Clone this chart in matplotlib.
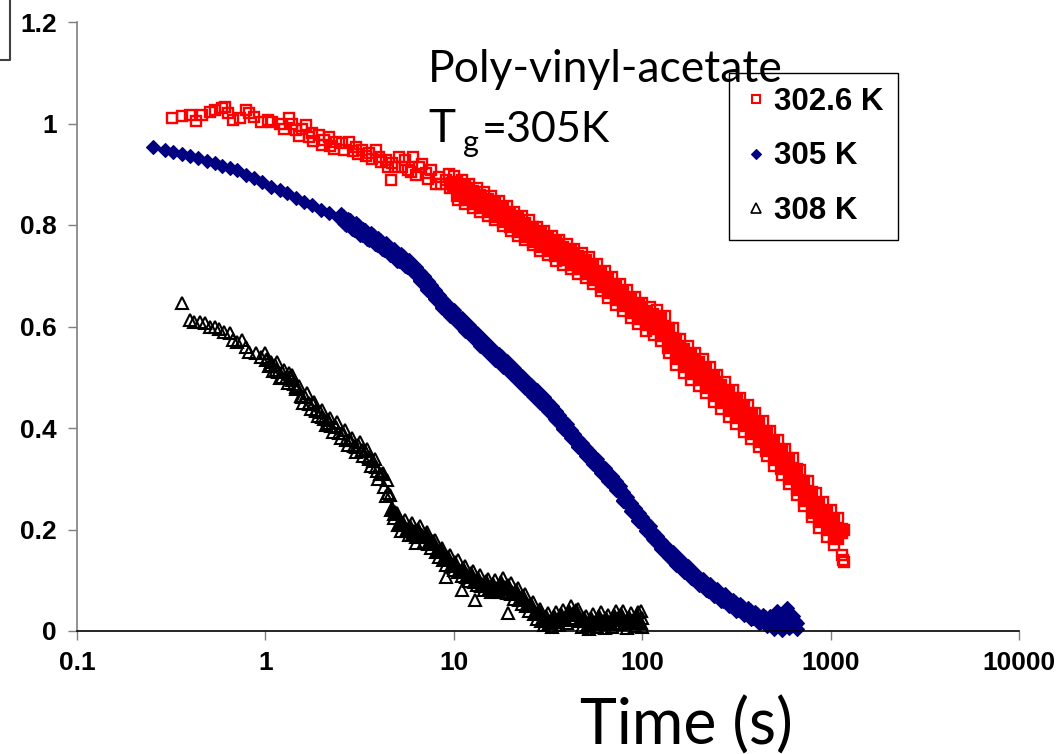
import matplotlib
matplotlib.use("Agg")
import matplotlib.pyplot as plt
import numpy as np
from matplotlib.lines import Line2D
from matplotlib.font_manager import FontProperties

# ---- data: normalised signal vs time (s) for three temperatures ----
# 302.6 K
red_t_early = [0.318, 0.36, 0.396, 0.43, 0.46, 0.505, 0.54, 0.585, 0.61, 0.63, 0.67, 0.73, 0.79, 0.82,
               0.87, 0.95, 1.03, 1.09, 1.19, 1.26, 1.34, 1.39, 1.46, 1.5, 1.57, 1.64, 1.70, 1.77, 1.8,
               1.93, 2.0, 2.05, 2.18, 2.2, 2.3, 2.36, 2.54, 2.6, 2.78, 2.9, 3.02, 3.1, 3.26, 3.4, 3.55,
               3.7, 3.86, 4.0, 4.1, 4.35, 4.5, 4.65, 4.7, 4.9, 5.1, 5.3, 5.5, 5.7, 5.9, 6.1, 6.3, 6.5,
               6.8, 7.1, 7.3, 7.6, 8.0, 8.3, 8.6, 9.1, 9.4, 9.5, 9.8]
red_v_early = [1.011, 1.015, 1.017, 1.005, 1.017, 1.023, 1.027, 1.030, 1.033, 1.020, 1.007, 1.010, 1.027, 1.020,
               1.013, 1.003, 1.007, 1.003, 1.000, 0.990, 1.010, 1.000, 0.987, 0.975, 0.990, 0.997, 0.973, 0.981, 0.965,
               0.977, 0.958, 0.967, 0.973, 0.955, 0.950, 0.963, 0.961, 0.948, 0.963, 0.945, 0.954, 0.940, 0.948, 0.935, 0.942,
               0.930, 0.948, 0.934, 0.925, 0.928, 0.915, 0.889, 0.922, 0.915, 0.934, 0.915, 0.928, 0.908, 0.905, 0.934, 0.898, 0.914,
               0.920, 0.902, 0.890, 0.908, 0.880, 0.895, 0.880, 0.889, 0.900, 0.872, 0.883]

red_t = [10.0, 10.5, 11.0, 11.5, 12.0, 12.6, 13.2, 13.8, 14.5, 15.1, 15.8, 16.6, 17.4, 18.2, 19.1,
         20.0, 20.9, 21.9, 22.9, 24.0, 25.1, 26.3, 27.5, 28.8, 30.2, 31.6, 33.1, 34.7, 36.3, 38.0,
         39.8, 41.7, 43.7, 45.7, 47.9, 50.1, 52.5, 55.0, 57.5, 60.3, 63.1, 66.1, 69.2, 72.4, 75.9,
         79.4, 83.2, 87.1, 91.2, 95.5, 100, 105, 110, 115, 120, 126, 132, 138, 145, 151,
         158, 166, 174, 182, 191, 200, 209, 219, 229, 240, 251, 263, 275, 288, 302,
         316, 331, 347, 363, 380, 398, 417, 437, 457, 479, 501, 525, 550, 575, 603,
         631, 661, 692, 724, 759, 794, 832, 871, 912, 955, 1000, 1047, 1096, 1148, 1175,
         1160, 1175]
red_v = [0.897, 0.850, 0.888, 0.842, 0.880, 0.834, 0.872, 0.826, 0.866, 0.818, 0.857, 0.809, 0.847, 0.798, 0.838,
         0.789, 0.826, 0.778, 0.818, 0.770, 0.809, 0.760, 0.797, 0.749, 0.788, 0.740, 0.779, 0.730, 0.770, 0.722,
         0.762, 0.713, 0.752, 0.704, 0.745, 0.696, 0.737, 0.683, 0.724, 0.669, 0.710, 0.656, 0.697, 0.643, 0.684,
         0.630, 0.672, 0.617, 0.659, 0.604, 0.647, 0.591, 0.638, 0.584, 0.633, 0.572, 0.620, 0.548, 0.597, 0.525,
         0.575, 0.508, 0.562, 0.495, 0.548, 0.482, 0.535, 0.468, 0.520, 0.452, 0.504, 0.437, 0.490, 0.422, 0.475,
         0.408, 0.460, 0.393, 0.445, 0.378, 0.430, 0.362, 0.413, 0.344, 0.395, 0.326, 0.377, 0.308, 0.359, 0.290,
         0.340, 0.268, 0.317, 0.246, 0.295, 0.224, 0.272, 0.202, 0.254, 0.186, 0.238, 0.170, 0.223, 0.150, 0.200,
         0.140, 0.135]

red_t_b = [10.2, 10.7, 11.2, 11.7, 12.3, 12.9, 13.5, 14.1, 14.8, 15.5, 16.2, 17.0, 17.8, 18.6, 19.5,
           20.4, 21.4, 22.4, 23.4, 24.5, 25.7, 26.9, 28.2, 29.5, 30.9, 32.4, 33.9, 35.5, 37.2, 38.9,
           40.7, 42.7, 44.7, 46.8, 49.0, 51.3, 53.7, 56.2, 58.9, 61.7, 64.6, 67.6, 70.8, 74.1, 77.6,
           81.3, 85.1, 89.1, 93.3, 97.7, 102, 107, 112, 117, 123, 129, 135, 141, 148, 155,
           162, 170, 178, 186, 195, 204, 214, 224, 234, 245, 257, 269, 282, 295, 309,
           324, 339, 355, 372, 389, 407, 427, 447, 468, 490, 513, 537, 562, 589, 617,
           646, 676, 708, 741, 776, 813, 851, 891, 933, 977, 1023, 1072, 1122]
red_v_b = [0.880, 0.862, 0.872, 0.854, 0.864, 0.846, 0.856, 0.838, 0.848, 0.830, 0.840, 0.820, 0.830, 0.810, 0.820,
           0.800, 0.810, 0.790, 0.800, 0.781, 0.792, 0.771, 0.780, 0.761, 0.771, 0.752, 0.762, 0.743, 0.753, 0.735,
           0.745, 0.725, 0.735, 0.717, 0.727, 0.708, 0.717, 0.696, 0.704, 0.682, 0.690, 0.669, 0.677, 0.656, 0.664,
           0.644, 0.652, 0.631, 0.639, 0.618, 0.626, 0.607, 0.620, 0.600, 0.612, 0.586, 0.594, 0.562, 0.572, 0.539,
           0.552, 0.524, 0.539, 0.511, 0.526, 0.498, 0.512, 0.483, 0.497, 0.467, 0.481, 0.453, 0.467, 0.438, 0.452,
           0.423, 0.437, 0.408, 0.422, 0.393, 0.407, 0.377, 0.389, 0.359, 0.371, 0.341, 0.353, 0.323, 0.335, 0.304,
           0.315, 0.282, 0.292, 0.260, 0.270, 0.237, 0.248, 0.218, 0.230, 0.202, 0.214, 0.186, 0.197]

# 305 K
blue_t_early = [0.252, 0.292, 0.322, 0.36, 0.396, 0.437, 0.487, 0.54, 0.59, 0.645, 0.71, 0.79, 0.87, 0.96,
                1.07, 1.19, 1.30, 1.46, 1.60, 1.77, 1.97, 2.18, 2.46]
blue_v_early = [0.954, 0.948, 0.944, 0.940, 0.936, 0.932, 0.926, 0.922, 0.916, 0.912, 0.908, 0.899, 0.893, 0.885,
                0.875, 0.869, 0.863, 0.853, 0.845, 0.839, 0.830, 0.824, 0.814]

blue_t = [2.51, 2.63, 2.75, 2.88, 3.02, 3.16, 3.31, 3.47, 3.63, 3.80, 3.98, 4.17, 4.37, 4.57, 4.79,
          5.01, 5.25, 5.50, 5.75, 6.03, 6.31, 6.61, 6.92, 7.24, 7.59, 7.94, 8.32, 8.71, 9.12, 9.55,
          10.0, 10.5, 11.0, 11.5, 12.0, 12.6, 13.2, 13.8, 14.5, 15.1, 15.8, 16.6, 17.4, 18.2, 19.1,
          20.0, 20.9, 21.9, 22.9, 24.0, 25.1, 26.3, 27.5, 28.8, 30.2, 31.6, 33.1, 34.7, 36.3, 38.0,
          39.8, 41.7, 43.7, 45.7, 47.9, 50.1, 52.5, 55.0, 57.5, 60.3, 63.1, 66.1, 69.2, 72.4, 75.9,
          79.4, 83.2, 87.1, 91.2, 95.5, 100, 105, 110, 115, 120, 126, 132, 138, 145, 151,
          158, 166, 174, 182, 191, 200, 209, 219, 229, 240, 251, 263, 275, 288, 302,
          316, 331, 347, 363, 380, 398, 417, 437, 457, 479, 501, 520, 525, 550, 575,
          590, 603, 631, 645, 661]
blue_v = [0.822, 0.801, 0.812, 0.792, 0.804, 0.781, 0.793, 0.772, 0.784, 0.762, 0.774, 0.752, 0.764, 0.740, 0.753,
          0.730, 0.742, 0.719, 0.731, 0.709, 0.717, 0.690, 0.699, 0.672, 0.681, 0.654, 0.663, 0.636, 0.646, 0.621,
          0.632, 0.607, 0.617, 0.592, 0.603, 0.577, 0.588, 0.562, 0.573, 0.548, 0.559, 0.534, 0.546, 0.521, 0.532,
          0.507, 0.518, 0.493, 0.503, 0.478, 0.489, 0.464, 0.475, 0.450, 0.461, 0.434, 0.443, 0.416, 0.425, 0.398,
          0.407, 0.380, 0.389, 0.362, 0.371, 0.345, 0.355, 0.329, 0.338, 0.312, 0.322, 0.296, 0.306, 0.278, 0.285,
          0.257, 0.264, 0.236, 0.243, 0.216, 0.225, 0.198, 0.206, 0.179, 0.188, 0.161, 0.170, 0.145, 0.156, 0.131,
          0.142, 0.117, 0.129, 0.104, 0.115, 0.090, 0.103, 0.080, 0.092, 0.069, 0.082, 0.059, 0.072, 0.049, 0.062,
          0.040, 0.054, 0.032, 0.046, 0.024, 0.038, 0.016, 0.031, 0.010, 0.030, 0.004, 0.040, 0.026, 0.002, 0.034,
          0.045, 0.006, 0.030, 0.020, 0.004]

blue_t_b = [2.57, 2.69, 2.82, 2.95, 3.09, 3.24, 3.39, 3.55, 3.72, 3.89, 4.07, 4.27, 4.47, 4.68, 4.90,
            5.13, 5.37, 5.62, 5.89, 6.17, 6.46, 6.76, 7.08, 7.41, 7.76, 8.13, 8.51, 8.91, 9.33, 9.77,
            10.2, 10.7, 11.2, 11.7, 12.3, 12.9, 13.5, 14.1, 14.8, 15.5, 16.2, 17.0, 17.8, 18.6, 19.5,
            20.4, 21.4, 22.4, 23.4, 24.5, 25.7, 26.9, 28.2, 29.5, 30.9, 32.4, 33.9, 35.5, 37.2, 38.9,
            40.7, 42.7, 44.7, 46.8, 49.0, 51.3, 53.7, 56.2, 58.9, 61.7, 64.6, 67.6, 70.8, 74.1, 77.6,
            81.3, 85.1, 89.1, 93.3, 97.7, 102, 107, 112, 117, 123, 129, 135, 141, 148, 155,
            162, 170, 178, 186, 195, 204, 214, 224, 234, 245, 257, 269, 282, 295, 309,
            324, 339, 355, 372, 389, 407, 427, 447, 468, 490, 513, 537, 562, 589, 617, 646]
blue_v_b = [0.814, 0.804, 0.805, 0.795, 0.796, 0.785, 0.786, 0.775, 0.776, 0.765, 0.766, 0.755, 0.755, 0.744, 0.745,
            0.733, 0.734, 0.722, 0.723, 0.710, 0.707, 0.692, 0.689, 0.674, 0.671, 0.656, 0.653, 0.638, 0.637, 0.624,
            0.623, 0.609, 0.608, 0.595, 0.593, 0.580, 0.578, 0.565, 0.564, 0.551, 0.550, 0.537, 0.537, 0.524, 0.523,
            0.510, 0.509, 0.495, 0.494, 0.481, 0.480, 0.467, 0.466, 0.453, 0.451, 0.436, 0.433, 0.418, 0.415, 0.400,
            0.397, 0.382, 0.379, 0.364, 0.361, 0.347, 0.345, 0.331, 0.328, 0.314, 0.312, 0.298, 0.295, 0.279, 0.274,
            0.258, 0.253, 0.237, 0.232, 0.218, 0.214, 0.199, 0.195, 0.181, 0.177, 0.163, 0.160, 0.148, 0.146, 0.134,
            0.132, 0.120, 0.119, 0.107, 0.105, 0.094, 0.094, 0.083, 0.083, 0.073, 0.073, 0.063, 0.063, 0.053, 0.053,
            0.045, 0.045, 0.037, 0.037, 0.029, 0.029, 0.021, 0.024, 0.017, 0.020, 0.013, 0.018, 0.012, 0.018, 0.013, 0.016]

# 308 K
black_t_early = [0.36, 0.396, 0.42, 0.447, 0.476, 0.505, 0.54, 0.57, 0.606, 0.645, 0.67, 0.71, 0.75, 0.79,
                 0.82, 0.89, 0.95, 1.01, 1.07, 1.14, 1.23, 1.34, 1.39, 1.46, 1.57, 1.70, 1.86, 2.0, 2.18,
                 2.36, 2.54, 2.78, 3.02, 3.26, 3.55, 3.86, 4.2, 4.4, 6.3, 9.1, 11.0, 13.0, 19.5]
black_v_early = [0.646, 0.613, 0.609, 0.609, 0.607, 0.599, 0.599, 0.595, 0.589, 0.587, 0.573, 0.570, 0.573, 0.560,
                 0.550, 0.548, 0.540, 0.534, 0.530, 0.514, 0.500, 0.508, 0.495, 0.481, 0.461, 0.449, 0.435, 0.422, 0.410,
                 0.402, 0.390, 0.376, 0.363, 0.357, 0.343, 0.323, 0.311, 0.298, 0.173, 0.106, 0.081, 0.061, 0.035]

black_t = [1.00, 1.05, 1.10, 1.15, 1.20, 1.26, 1.32, 1.38, 1.45, 1.51, 1.58, 1.66, 1.74, 1.82, 1.91,
           2.00, 2.09, 2.19, 2.29, 2.40, 2.51, 2.63, 2.75, 2.88, 3.02, 3.16, 3.31, 3.47, 3.63, 3.80,
           3.98, 4.17, 4.37, 4.57, 4.79, 5.01, 5.25, 5.50, 5.75, 6.03, 6.31, 6.61, 6.92, 7.24, 7.59,
           7.94, 8.32, 8.71, 9.12, 9.55, 10.0, 10.5, 11.0, 11.5, 12.0, 12.6, 13.2, 13.8, 14.5, 15.1,
           15.8, 16.6, 17.4, 18.2, 19.1, 20.0, 20.9, 21.9, 22.9, 24.0, 25.1, 26.3, 27.5, 28.8, 30.2,
           31.6, 33.1, 34.7, 36.3, 38.0, 39.8, 41.7, 43.7, 45.7, 47.9, 50.1, 52.5, 55.0, 57.5, 60.3,
           63.1, 66.1, 69.2, 72.4, 75.9, 79.4, 83.2, 87.1, 91.2, 95.5, 99.0, 100, 100]
black_v = [0.548, 0.522, 0.512, 0.530, 0.498, 0.515, 0.489, 0.505, 0.476, 0.483, 0.450, 0.468, 0.437, 0.452, 0.423,
           0.436, 0.405, 0.420, 0.392, 0.411, 0.380, 0.396, 0.366, 0.381, 0.352, 0.373, 0.344, 0.359, 0.326, 0.338,
           0.300, 0.310, 0.266, 0.268, 0.222, 0.232, 0.198, 0.218, 0.190, 0.213, 0.186, 0.207, 0.176, 0.195, 0.163,
           0.180, 0.146, 0.163, 0.131, 0.150, 0.120, 0.140, 0.109, 0.129, 0.099, 0.119, 0.090, 0.110, 0.081, 0.103,
           0.076, 0.100, 0.076, 0.104, 0.074, 0.095, 0.064, 0.085, 0.054, 0.073, 0.040, 0.057, 0.024, 0.043, 0.012,
           0.036, 0.008, 0.038, 0.012, 0.042, 0.016, 0.050, 0.026, 0.044, 0.008, 0.030, 0.004, 0.034, 0.008, 0.038,
           0.006, 0.032, 0.008, 0.040, 0.014, 0.039, 0.006, 0.036, 0.010, 0.038, 0.040, 0.008, 0.025]

black_t_b = [1.02, 1.07, 1.12, 1.17, 1.23, 1.29, 1.35, 1.41, 1.48, 1.55, 1.62, 1.70, 1.78, 1.86, 1.95,
             2.04, 2.14, 2.24, 2.34, 2.45, 2.57, 2.69, 2.82, 2.95, 3.09, 3.24, 3.39, 3.55, 3.72, 3.89,
             4.07, 4.27, 4.47, 4.68, 4.90, 5.13, 5.37, 5.62, 5.89, 6.17, 6.46, 6.76, 7.08, 7.41, 7.76,
             8.13, 8.51, 8.91, 9.33, 9.77, 10.2, 10.7, 11.2, 11.7, 12.3, 12.9, 13.5, 14.1, 14.8, 15.5,
             16.2, 17.0, 17.8, 18.6, 19.5, 20.4, 21.4, 22.4, 23.4, 24.5, 25.7, 26.9, 28.2, 29.5, 30.9,
             32.4, 33.9, 35.5, 37.2, 38.9, 40.7, 42.7, 44.7, 46.8, 49.0, 51.3, 53.7, 56.2, 58.9, 61.7,
             64.6, 67.6, 70.8, 74.1, 77.6, 81.3, 85.1, 89.1, 93.3, 97.7]
black_v_b = [0.535, 0.524, 0.524, 0.511, 0.510, 0.498, 0.500, 0.486, 0.481, 0.464, 0.462, 0.448, 0.448, 0.434, 0.432,
             0.417, 0.416, 0.403, 0.404, 0.391, 0.391, 0.377, 0.377, 0.364, 0.366, 0.354, 0.355, 0.338, 0.335, 0.315,
             0.309, 0.284, 0.271, 0.241, 0.232, 0.211, 0.211, 0.200, 0.205, 0.195, 0.200, 0.187, 0.189, 0.174, 0.175,
             0.158, 0.158, 0.142, 0.144, 0.130, 0.134, 0.119, 0.123, 0.109, 0.113, 0.099, 0.103, 0.091, 0.096, 0.085,
             0.091, 0.083, 0.094, 0.084, 0.088, 0.075, 0.079, 0.064, 0.067, 0.051, 0.052, 0.035, 0.037, 0.022, 0.028,
             0.018, 0.027, 0.020, 0.031, 0.024, 0.038, 0.033, 0.040, 0.021, 0.024, 0.012, 0.024, 0.016, 0.028, 0.017,
             0.024, 0.015, 0.029, 0.023, 0.032, 0.018, 0.026, 0.019, 0.030, 0.017]

series_labels = ["302.6 K", "305 K", "308 K"]
x_ticks = [0.1, 1, 10, 100, 1000, 10000]
x_ticklabels = ["0.1", "1", "10", "100", "1000", "10000"]
y_ticks = [0, 0.2, 0.4, 0.6, 0.8, 1.0, 1.2]
y_ticklabels = ["0", "0.2", "0.4", "0.6", "0.8", "1", "1.2"]

# ---- figure ----
W, H = 1061, 754
fig = plt.figure(figsize=(W / 100, H / 100), dpi=100)
fig.patch.set_facecolor("white")


def fx(px):
    return px / W


def fy(py):
    return 1 - py / H


ax = fig.add_axes([fx(77), fy(631), fx(1019) - fx(77), fy(22) - fy(631)])
ax.set_xscale("log")

RED, NAVY = "#FF0000", "#000080"
red_kw = dict(ls="none", marker="s", ms=6.5, mfc="none", mec=RED, mew=1.7, clip_on=False)
red_dense_kw = dict(red_kw, mfc=RED, ms=10.5)
blue_kw = dict(ls="none", marker="D", ms=6.8, mfc=NAVY, mec=NAVY, mew=0.8, clip_on=False)
blue_dense_kw = dict(blue_kw, ms=9.5)
black_kw = dict(ls="none", marker="^", ms=8.5, mfc="none", mec="black", mew=1.5, clip_on=False)
black_dense_kw = dict(black_kw, mfc="black", ms=10.5)

# overlapping readings in the dense part of each record merge into a solid band
ax.plot(red_t_early, red_v_early, **red_kw)
ax.plot(red_t_b, red_v_b, **red_dense_kw)
h_red, = ax.plot(red_t, red_v, label=series_labels[0], **red_kw)

ax.plot(blue_t_early, blue_v_early, **blue_kw)
ax.plot(blue_t_b, blue_v_b, **blue_dense_kw)
h_blue, = ax.plot(blue_t, blue_v, label=series_labels[1], **blue_kw)

bt_b = np.array(black_t_b)
bv_b = np.array(black_v_b)
late = bt_b >= 4.5
ax.plot(black_t_early, black_v_early, **black_kw)
ax.plot(bt_b[~late], bv_b[~late], **black_kw)
ax.plot(bt_b[late], bv_b[late], **black_dense_kw)
h_black, = ax.plot(black_t, black_v, label=series_labels[2], **black_kw)

ax.set_xlim(0.1, 10000)
ax.set_ylim(0, 1.2)
ax.set_xticks(x_ticks)
ax.set_xticklabels(x_ticklabels)
ax.set_yticks(y_ticks)
ax.set_yticklabels(y_ticklabels)
ax.minorticks_off()

tick_fp = FontProperties(family=["Liberation Sans", "DejaVu Sans"], weight="bold", size=19)
for lab in ax.get_xticklabels() + ax.get_yticklabels():
    lab.set_fontproperties(tick_fp)

ax.tick_params(axis="both", direction="out", length=6.5, width=1.0, color="#7f7f7f", pad=8)
for side in ("top", "right"):
    ax.spines[side].set_visible(False)
ax.spines["left"].set_color("#7f7f7f")
ax.spines["left"].set_linewidth(1.2)
ax.spines["bottom"].set_color("black")
ax.spines["bottom"].set_linewidth(1.2)

leg = ax.legend(handles=[h_red, h_blue, h_black], loc="upper left",
                bbox_to_anchor=(fx(729), fy(73)), bbox_transform=fig.transFigure,
                prop=dict(family=["Liberation Sans", "DejaVu Sans"], weight="bold", size=22.5),
                frameon=True, fancybox=False, shadow=False, framealpha=1,
                borderpad=0.45, handlelength=0.8, handletextpad=0.2, labelspacing=0.78,
                borderaxespad=0)
leg.get_frame().set_edgecolor("black")
leg.get_frame().set_linewidth(1.0)
leg.legend_handles[0].set_markersize(5.5)
leg.legend_handles[0].set_markeredgewidth(1.5)
leg.legend_handles[1].set_markersize(5.5)
leg.legend_handles[2].set_markersize(7)
leg.legend_handles[2].set_markeredgewidth(1.2)

# annotation text
sans = ["Lato", "DejaVu Sans"]
fig.text(fx(428), fy(82), "Poly-vinyl-acetate", family=sans, size=32, va="baseline", ha="left")
fig.text(fx(428), fy(142), "T", family=sans, size=33, va="baseline", ha="left")
fig.text(fx(463), fy(152), "g", family=sans, size=22, va="baseline", ha="left")
fig.text(fx(482), fy(142), "=305K", family=sans, size=31, va="baseline", ha="left")
fig.text(fx(580), fy(745), "Time (s)", family=sans, size=45, va="baseline", ha="left")

# frame corner at the top-left edge
fig.add_artist(Line2D([fx(10), fx(10), fx(0)], [fy(0), fy(60), fy(60)],
                      transform=fig.transFigure, color="#404040", lw=1.5))

fig.savefig("out.png", dpi=100)
